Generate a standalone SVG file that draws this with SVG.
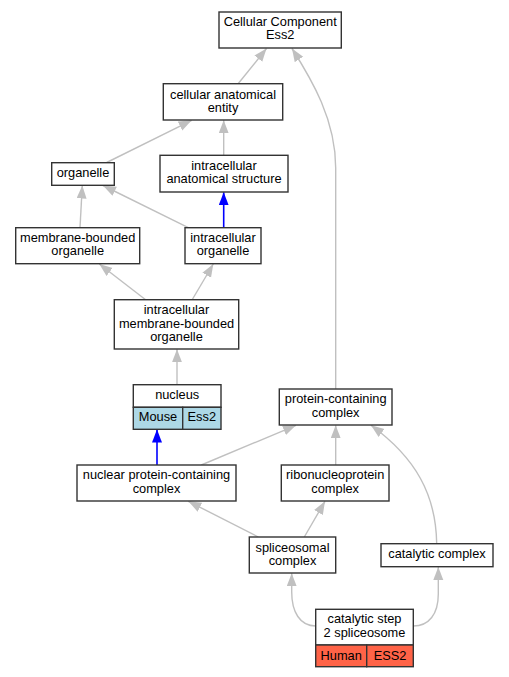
<svg xmlns="http://www.w3.org/2000/svg" width="509" height="677" viewBox="0 0 509 677">
<defs>
<style>
.box{fill:#ffffff;stroke:#333333;stroke-width:1.4}
.t{font-family:"Liberation Sans",Arial,sans-serif;font-size:12.8px;fill:#000000;text-anchor:middle}
.e{fill:none;stroke:#c0c0c0;stroke-width:1.4}
.b{fill:none;stroke:#0000ff;stroke-width:1.6}
.mouse{fill:#add8e6;stroke:#333333;stroke-width:1.4}
.human{fill:#ff6347;stroke:#333333;stroke-width:1.4}
</style>
<marker id="ag" markerUnits="userSpaceOnUse" markerWidth="14" markerHeight="11" refX="13" refY="5" orient="auto"><path d="M0,0 L13,5 L0,10 z" fill="#c0c0c0"/></marker>
<marker id="ab" markerUnits="userSpaceOnUse" markerWidth="14" markerHeight="11" refX="13" refY="5" orient="auto"><path d="M0,0 L13,5 L0,10 z" fill="#0000ff"/></marker>
</defs>
<rect width="509" height="677" fill="#ffffff"/>
<g id="edges">
<path class="e" marker-end="url(#ag)" d="M238.3,83.5 L266.5,48.5"/>
<path class="e" marker-end="url(#ag)" d="M335.7,389 L335.7,168 C335.7,120 312,80 292,48.5"/>
<path class="e" marker-end="url(#ag)" d="M106.7,162.5 L191.7,120.3"/>
<path class="e" marker-end="url(#ag)" d="M223.7,155.3 L223.7,120.3"/>
<path class="e" marker-end="url(#ag)" d="M80,227.7 L82.3,185.5"/>
<path class="e" marker-end="url(#ag)" d="M188.3,227.7 L103,185.5"/>
<path class="b" marker-end="url(#ab)" d="M223.7,227.7 L223.7,192.3"/>
<path class="e" marker-end="url(#ag)" d="M145.3,299.5 L99.3,264"/>
<path class="e" marker-end="url(#ag)" d="M192.3,299.5 L213.3,264"/>
<path class="e" marker-end="url(#ag)" d="M177,384.7 L177,349.3"/>
<path class="b" marker-end="url(#ab)" d="M157,465 L157,429.6"/>
<path class="e" marker-end="url(#ag)" d="M201.3,465 L296,425.3"/>
<path class="e" marker-end="url(#ag)" d="M335.7,465 L335.7,425.3"/>
<path class="e" marker-end="url(#ag)" d="M436.7,543.7 C436,495 416,458 371,425.3"/>
<path class="e" marker-end="url(#ag)" d="M258.3,537 L188.3,501.3"/>
<path class="e" marker-end="url(#ag)" d="M304.3,537 L325,501.3"/>
<path class="e" marker-end="url(#ag)" d="M315.7,626 C300,626 291.7,612 291.7,592 L291.7,573.3"/>
<path class="e" marker-end="url(#ag)" d="M413.3,626 C429,626 438.3,614 438.3,594 L438.3,567"/>
</g>
<g id="cc">
<rect class="box" x="219" y="12" width="122.3" height="36"/>
<text class="t" x="280.2" y="26.3">Cellular Component</text>
<text class="t" x="280.2" y="39.3">Ess2</text>
</g>
<g id="cae">
<rect class="box" x="163.3" y="83.7" width="119.4" height="36.3"/>
<text class="t" x="223" y="98.5">cellular anatomical</text>
<text class="t" x="223" y="111.5">entity</text>
</g>
<g id="organelle">
<rect class="box" x="51.7" y="162.7" width="62.6" height="22.6"/>
<text class="t" x="83" y="177.3">organelle</text>
</g>
<g id="ias">
<rect class="box" x="160" y="155.3" width="128" height="36.7"/>
<text class="t" x="224" y="170.2">intracellular</text>
<text class="t" x="224" y="183.2">anatomical structure</text>
</g>
<g id="mbo">
<rect class="box" x="15.7" y="227.7" width="124" height="36"/>
<text class="t" x="77.7" y="241.7">membrane-bounded</text>
<text class="t" x="77.7" y="254.7">organelle</text>
</g>
<g id="io">
<rect class="box" x="185" y="227.7" width="76" height="36"/>
<text class="t" x="223" y="241.7">intracellular</text>
<text class="t" x="223" y="254.7">organelle</text>
</g>
<g id="imbo">
<rect class="box" x="114.3" y="299.7" width="124.4" height="49.3"/>
<text class="t" x="176.5" y="314.3">intracellular</text>
<text class="t" x="176.5" y="327.6">membrane-bounded</text>
<text class="t" x="176.5" y="341">organelle</text>
</g>
<g id="nucleus">
<rect class="box" x="133.3" y="384.7" width="87.7" height="22.6"/>
<rect class="mouse" x="133.3" y="407.3" width="49.4" height="22"/>
<rect class="mouse" x="182.7" y="407.3" width="38.3" height="22"/>
<text class="t" x="177.2" y="399.3">nucleus</text>
<text class="t" x="158" y="421.3">Mouse</text>
<text class="t" x="201.8" y="421.3">Ess2</text>
</g>
<g id="pcc">
<rect class="box" x="279.3" y="389" width="112.7" height="36"/>
<text class="t" x="335.7" y="403.2">protein-containing</text>
<text class="t" x="335.7" y="416.5">complex</text>
</g>
<g id="npcc">
<rect class="box" x="77" y="465" width="159" height="36"/>
<text class="t" x="156.5" y="479.2">nuclear protein-containing</text>
<text class="t" x="156.5" y="492.5">complex</text>
</g>
<g id="rnp">
<rect class="box" x="281.3" y="465" width="107.7" height="36"/>
<text class="t" x="335.2" y="479.2">ribonucleoprotein</text>
<text class="t" x="335.2" y="492.5">complex</text>
</g>
<g id="spl">
<rect class="box" x="249.3" y="537" width="86.4" height="36"/>
<text class="t" x="292.5" y="551.5">spliceosomal</text>
<text class="t" x="292.5" y="565">complex</text>
</g>
<g id="catc">
<rect class="box" x="381" y="543.7" width="112" height="23"/>
<text class="t" x="437" y="558.3">catalytic complex</text>
</g>
<g id="cs2">
<rect class="box" x="315.7" y="609.3" width="97.6" height="35.7"/>
<rect class="human" x="315.7" y="645" width="51" height="21.7"/>
<rect class="human" x="366.7" y="645" width="46.6" height="21.7"/>
<text class="t" x="364.5" y="623.3">catalytic step</text>
<text class="t" x="364.5" y="637">2 spliceosome</text>
<text class="t" x="341.2" y="660">Human</text>
<text class="t" x="390" y="660">ESS2</text>
</g>
</svg>
